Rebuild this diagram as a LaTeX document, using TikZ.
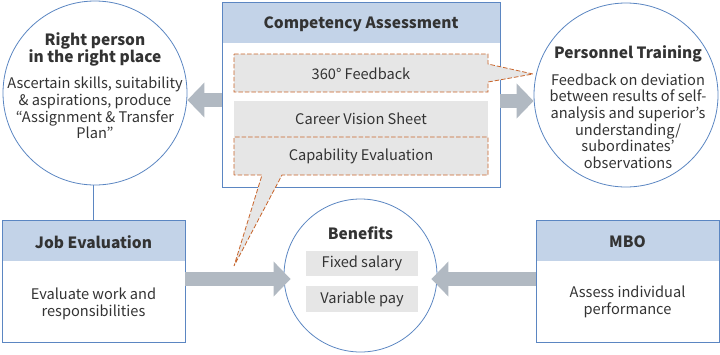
\documentclass[tikz,border=0pt]{standalone}
\usepackage{fontspec}
\setmainfont{Noto Sans CJK JP}
\usetikzlibrary{arrows.meta,positioning,calc}
\definecolor{boxblue}{HTML}{5B86C2}
\definecolor{headblue}{HTML}{C3D3E8}
\definecolor{textdark}{HTML}{333333}
\definecolor{calloutorange}{HTML}{C8642A}
\definecolor{slotgray}{HTML}{E6E6E6}
\definecolor{arrowgray}{HTML}{B1B9C2}

\begin{document}
\begin{tikzpicture}[x=1pt,y=-1pt,
  txt/.style={font=\fontsize{14.6}{16.6}\selectfont,text=textdark,align=center,inner sep=0pt},
  ttl/.style={font=\fontsize{15.5}{17}\selectfont\bfseries,text=textdark,align=center,inner sep=0pt},
  ring/.style={circle,draw=boxblue,line width=0.8pt,fill=white,minimum size=#1,inner sep=0pt},
  panel/.style={draw=boxblue,line width=0.8pt,minimum width=#1,inner sep=0pt,outer sep=0pt},
  head/.style={fill=headblue,minimum width=#1,minimum height=41,inner sep=0pt,outer sep=0pt},
  slot/.style={minimum width=#1,inner sep=0pt,outer sep=0pt},
  callout/.style={fill=slotgray,draw=calloutorange,dash pattern=on 4.5pt off 2pt,line width=0.8pt},
  fat/.style={arrowgray,line width=14pt,-{Triangle[width=34pt,length=17pt]}}]
  \useasboundingbox (0,0) rectangle (720,354);
  % evaluacion de competencias
  \node[head=278,anchor=north] (compHead) at (361,2) {};
  \node[panel=278,minimum height=185] (comp) at (361,94.5) {};
  \fill[white] (compHead.south west) rectangle (comp.south east);
  \draw[boxblue,line width=0.8pt] (comp.north west) rectangle (comp.south east);
  \node[ttl] (compTitle) at ($(compHead.center)+(0,1.5)$) {Competency Assessment};
  \node[slot=254,minimum height=38] (fb) at (361,73) {};
  \coordinate (fbTip) at (533,74);
  \draw[callout] (fb.north west) -- (fb.north east) -- ($(fb.north east)+(0,10)$)
    -- (fbTip) -- ($(fb.south east)+(0,-10)$) -- (fb.south east) -- (fb.south west) -- cycle;
  \node[txt] (fbText) at ($(fb)+(0,1)$) {360° Feedback};
  \node[slot=254,minimum height=36,fill=slotgray] (cv) at (361,119) {};
  \node[txt] (cvText) at (cv) {Career Vision Sheet};
  \node[slot=254,minimum height=38] (cap) at (361,156) {};
  \coordinate (capTip) at (234,266);
  \draw[callout] (cap.south west) -- (cap.north west) -- (cap.north east) -- (cap.south east)
    -- ($(cap.south west)+(48,0)$) -- (capTip) -- ($(cap.south west)+(28,0)$) -- cycle;
  \node[txt] (capText) at (cap) {Capability Evaluation};
  % circulos superiores
  \node[ring=184] (place) at (95,93) {};
  \node[ttl] (placeTitle) at (95,49.5) {Right person\\in the right place};
  \node[txt] (placeText) at (95,108) {Ascertain skills, suitability\\\& aspirations, produce\\“Assignment \& Transfer\\Plan”};
  \node[ring=184] (train) at (626,95) {};
  \node[ttl] (trainTitle) at (628,54) {Personnel Training};
  \node[txt] (trainText) at (628,121) {Feedback on deviation\\between results of self-\\analysis and superior’s\\understanding/\\subordinates’\\observations};
  % evaluacion del puesto y MBO
  \node[head=183,anchor=north] (jobHead) at (93.5,220) {};
  \node[panel=183,minimum height=122] (job) at (93.5,281) {};
  \node[ttl] (jobTitle) at ($(jobHead.center)+(0,1.5)$) {Job Evaluation};
  \node[txt] (jobText) at (93.5,304) {Evaluate work and\\responsibilities};
  \node[head=183,anchor=north] (mboHead) at (627.5,220) {};
  \node[panel=183,minimum height=122] (mbo) at (627.5,281) {};
  \node[ttl] (mboTitle) at ($(mboHead.center)+(0,1.5)$) {MBO};
  \node[txt] (mboText) at (627.5,302) {Assess individual\\performance};
  \draw[boxblue,line width=0.8pt] (job.north |- place.south) -- (job.north);
  % beneficios
  \node[ring=153] (ben) at (360.5,275.5) {};
  \node[ttl] (benTitle) at (360.5,233) {Benefits};
  \node[slot=112,minimum height=25,fill=slotgray] (fixed) at (362,263.5) {};
  \node[txt] (fixedText) at (fixed) {Fixed salary};
  \node[slot=112,minimum height=26,fill=slotgray] (var) at (362,299) {};
  \node[txt] (varText) at (var) {Variable pay};
  % flechas
  \coordinate (placeIn) at ($(place.east)+(0,7)$);
  \coordinate (trainIn) at ($(train.west)+(0,6)$);
  \coordinate (jobOut) at ($(job.east)+(0,-2)$);
  \coordinate (mboOut) at ($(mbo.west)+(0,-2)$);
  \coordinate (benIn) at ($(ben.west)+(7,0)$);
  \coordinate (benOut) at ($(ben.east)+(-6,0)$);
  \draw[fat] (comp.west |- placeIn) -- (placeIn);
  \draw[fat] (comp.east |- trainIn) -- (trainIn);
  \draw[fat] (jobOut) -- (benIn |- jobOut);
  \draw[fat] (mboOut) -- (benOut |- mboOut);
\end{tikzpicture}
\end{document}
